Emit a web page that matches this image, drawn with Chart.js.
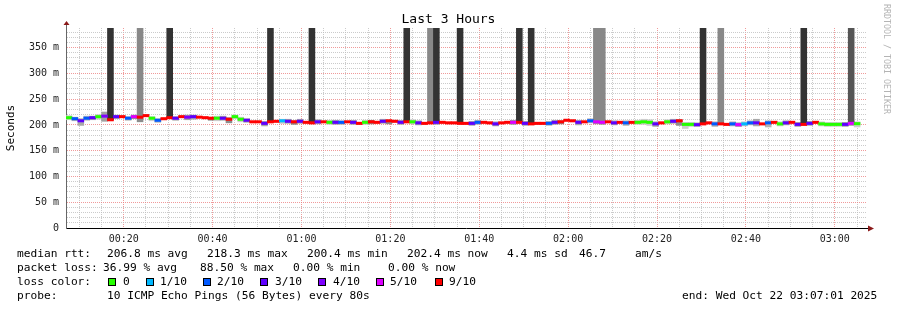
<!DOCTYPE html>
<html>
<head>
<meta charset="utf-8">
<script src="https://cdn.jsdelivr.net/npm/chart.js@4.4.0/dist/chart.umd.min.js"></script>
<style>
  body { margin: 0; background: #fff; }
  #wrap { position: relative; width: 897px; height: 310px; font-family: 'DejaVu Sans Mono', monospace; color: #000; overflow: hidden; }
  #wrap canvas { position: absolute; left: 0; top: 0; }
  .t { position: absolute; white-space: pre; font-size: 11.2px; line-height: 14px; }
  .box { position: absolute; width: 6px; height: 6px; border: 1px solid #000; }
  #title { position: absolute; left: 0; width: 897px; top: 11px; text-align: center; font-size: 13px; line-height: 16px; }
  #side { position: absolute; left: 882px; top: 4px; writing-mode: vertical-rl; font-size: 8.3px; line-height: 10px; color: #b4b4b4; }
</style>
</head>
<body>
<div id="wrap">
  <canvas id="smokeChart" width="897" height="310"></canvas>
  <div id="title">Last 3 Hours</div>
  <div id="side">RRDTOOL / TOBI OETIKER</div>
  <div id="legend"></div>
</div>
<script>
// 80 s steps starting 00:07:01 (minutes since midnight)
const stepStart = 7 + 1 / 60;
const stepMinutes = 80 / 60;

// median rtt per step (ms)
const median = [
  214, 212, 208, 213, 214, 216, 217, 210, 216, 216,
  213, 216, 215, 218, 213, 209, 212, 214, 213, 216,
  215, 216, 215, 214, 213, 213, 213, 211, 216, 211,
  209, 206, 206, 203, 206, 207, 208, 207, 206, 207,
  205, 204, 206, 206, 205, 205, 205, 206, 205, 203,
  205, 206, 205, 207, 208, 207, 205, 206, 206, 204,
  203, 204, 205, 205, 204, 204, 203, 203, 203, 205,
  205, 204, 202, 204, 205, 205, 205, 203, 202, 203,
  203, 203, 205, 206, 209, 208, 205, 206, 208, 206,
  205, 206, 204, 205, 204, 205, 205, 206, 205, 202,
  204, 206, 207, 208, 201, 201, 200.5, 202, 204, 202,
  202, 201, 202, 200.5, 202, 204, 204, 202, 204, 205,
  202, 204, 205, 201, 201, 203, 205, 202, 201, 201,
  201, 201, 203, 202.4
];

// packet loss per step (x/10)
const loss = [
  0, 2, 3, 2, 3, 0, 4, 9, 3, 9,
  2, 5, 9, 9, 0, 2, 9, 9, 3, 9,
  4, 3, 9, 9, 9, 0, 3, 9, 0, 0,
  3, 9, 9, 3, 9, 9, 1, 3, 9, 3,
  9, 9, 3, 9, 0, 3, 2, 9, 3, 9,
  0, 9, 9, 3, 9, 9, 3, 9, 0, 3,
  9, 9, 3, 9, 9, 9, 9, 9, 3, 2,
  9, 9, 3, 9, 9, 5, 9, 3, 9, 9,
  9, 2, 3, 9, 9, 9, 3, 9, 2, 5,
  5, 9, 3, 9, 2, 9, 0, 0, 0, 3,
  9, 0, 3, 9, 0, 0, 3, 9, 9, 2,
  9, 9, 2, 5, 1, 2, 3, 9, 2, 9,
  0, 3, 9, 3, 9, 3, 9, 0, 0, 0,
  0, 3, 5, 0
];

// smoke (spread of the pings) per step, ms
const smokeLo = [
  210, 208, 199, 209, 210, 211, 207, 209, 212, 215,
  209, 212, 206, 217, 208, 205, 211, 213, 209, 215,
  210, 211, 214, 213, 209, 208, 209, 204, 212, 206,
  205, 205, 205, 198, 205, 206, 203, 203, 201, 203,
  204, 203, 202, 205, 201, 201, 201, 205, 201, 202,
  201, 202, 204, 203, 202, 206, 201, 205, 202, 200,
  202, 203, 201, 204, 203, 203, 202, 202, 199, 201,
  204, 203, 198, 203, 204, 201, 204, 199, 201, 202,
  202, 199, 201, 202, 208, 207, 200, 205, 204, 202,
  201, 205, 200, 204, 199, 204, 201, 201, 199, 197,
  203, 202, 203, 199, 193, 197, 197, 201, 203, 197,
  201, 200, 198, 197, 198, 200, 198, 201, 196, 204,
  198, 200, 204, 197, 200, 199, 204, 198, 197, 197,
  197, 197, 199, 196
];
const smokeHi = [
  218, 215, 212, 217, 217, 220, 225, 212, 219, 217,
  216, 219, 218, 219, 216, 212, 213, 215, 216, 217,
  219, 219, 216, 215, 214, 217, 217, 214, 219, 215,
  212, 207, 207, 207, 207, 208, 211, 211, 208, 211,
  206, 205, 210, 207, 209, 209, 208, 207, 209, 204,
  209, 209, 206, 211, 209, 208, 209, 207, 210, 208,
  204, 205, 209, 206, 205, 205, 204, 204, 207, 209,
  206, 205, 206, 205, 206, 209, 206, 207, 203, 204,
  204, 207, 209, 208, 210, 209, 209, 207, 212, 210,
  209, 207, 208, 206, 208, 206, 209, 211, 210, 206,
  205, 210, 211, 210, 205, 205, 204, 203, 205, 206,
  203, 202, 206, 204, 206, 208, 211, 203, 208, 206,
  206, 208, 206, 205, 202, 207, 206, 206, 205, 205,
  205, 205, 207, 206
];

// steps whose slowest pings run off the top of the scale
const outlierDark = [7, 17, 34, 41, 57, 62, 66, 76, 78, 107, 124];
const outlierMid = [132];
const outlierGrey = [12, 61, 89, 90, 110];
const outlierRtt = 420;

const yLabelValues = [0, 50, 100, 150, 200, 250, 300, 350];
const yLabels = ['0', '50 m', '100 m', '150 m', '200 m', '250 m', '300 m', '350 m'];
const xLabelMinutes = [20, 40, 60, 80, 100, 120, 140, 160, 180];
const xLabels = ['00:20', '00:40', '01:00', '01:20', '01:40', '02:00', '02:20', '02:40', '03:00'];

const lossColors = { 0: '#26ff00', 1: '#00b8ff', 2: '#0059ff', 3: '#5e00ff', 4: '#7e00ff', 5: '#dd00ff', 9: '#ff0000' };
const smokeColors = { 0: '#cdcdcd', 1: '#c4c4c4', 2: '#b4b4b4', 3: '#a8a8a8', 4: '#a0a0a0', 5: '#989898', 9: '#8c8c8c' };

const stepX = i => stepStart + stepMinutes * (i + 0.5);

const medianData = median.map((m, i) => ({ x: stepX(i), y: [m - 2.3, m + 2.3] }));
const smokeData = smokeLo.map((lo, i) => ({ x: stepX(i), y: [lo, smokeHi[i]] }));
const outlierData = steps => steps.map(i => ({ x: stepX(i), y: [median[i], outlierRtt] }));

const xGrid = [];
for (let m = 10; m <= 185; m += 5) xGrid.push(m);
const yGrid = [];
for (let v = 0; v <= 380; v += 10) yGrid.push(v);

const gridRed = 'rgba(235, 120, 120, 0.75)';
const gridGrey = 'rgba(190, 190, 190, 0.8)';
const tickFont = { family: 'DejaVu Sans Mono', size: 10 };

const axisArrows = {
  id: 'axisArrows',
  afterDraw(chart) {
    const { ctx, chartArea: a } = chart;
    ctx.save();
    ctx.strokeStyle = '#666';
    ctx.lineWidth = 1;
    ctx.beginPath();
    ctx.moveTo(a.left + 0.5, a.top);
    ctx.lineTo(a.left + 0.5, a.top - 4);
    ctx.stroke();
    ctx.strokeStyle = '#000';
    ctx.beginPath();
    ctx.moveTo(a.right, a.bottom + 0.5);
    ctx.lineTo(a.right + 3, a.bottom + 0.5);
    ctx.stroke();
    ctx.fillStyle = '#8b1a1a';
    ctx.beginPath();
    ctx.moveTo(a.left - 2.5, a.top - 3);
    ctx.lineTo(a.left + 3.5, a.top - 3);
    ctx.lineTo(a.left + 0.5, a.top - 7);
    ctx.closePath();
    ctx.fill();
    ctx.beginPath();
    ctx.moveTo(a.right + 2, a.bottom - 2.5);
    ctx.lineTo(a.right + 2, a.bottom + 3.5);
    ctx.lineTo(a.right + 8, a.bottom + 0.5);
    ctx.closePath();
    ctx.fill();
    ctx.restore();
  }
};

new Chart(document.getElementById('smokeChart').getContext('2d'), {
  type: 'bar',
  data: {
    datasets: [
      {
        label: 'median rtt',
        data: medianData,
        backgroundColor: ctx => lossColors[loss[ctx.dataIndex]],
        order: 0
      },
      { label: 'outliers dark', data: outlierData(outlierDark), backgroundColor: '#333333', order: 1 },
      { label: 'outliers mid', data: outlierData(outlierMid), backgroundColor: '#555555', order: 1 },
      { label: 'outliers grey', data: outlierData(outlierGrey), backgroundColor: '#888888', order: 1 },
      {
        label: 'smoke',
        data: smokeData,
        backgroundColor: ctx => smokeColors[loss[ctx.dataIndex]],
        order: 2
      }
    ]
  },
  options: {
    responsive: false,
    animation: false,
    devicePixelRatio: 1,
    layout: { padding: { left: 0, right: 31, top: 28, bottom: 0 } },
    datasets: {
      bar: { grouped: false, barPercentage: 1, categoryPercentage: 1, borderWidth: 0, clip: 0 }
    },
    plugins: {
      legend: { display: false },
      tooltip: { enabled: false },
      title: { display: false }
    },
    scales: {
      x: {
        type: 'linear',
        offset: false,
        min: stepStart,
        max: stepStart + 180,
        afterBuildTicks: ax => { ax.ticks = xGrid.map(v => ({ value: v })); },
        afterFit: ax => { ax.height = 82; },
        grid: {
          offset: false,
          color: c => (c.tick && xLabelMinutes.includes(c.tick.value)) ? gridRed : gridGrey,
          drawTicks: false
        },
        border: { color: '#000', dash: [1, 1] },
        ticks: {
          autoSkip: false,
          maxRotation: 0,
          padding: 5,
          color: '#222',
          font: tickFont,
          callback: v => {
            const k = xLabelMinutes.indexOf(v);
            return k >= 0 ? xLabels[k] : '';
          }
        }
      },
      y: {
        min: 0,
        max: 388,
        afterBuildTicks: ax => { ax.ticks = yGrid.map(v => ({ value: v })); },
        afterFit: ax => { ax.width = 66; },
        grid: {
          color: c => (c.tick && yLabelValues.includes(c.tick.value)) ? gridRed : gridGrey,
          drawTicks: false
        },
        border: { color: '#666', dash: [1, 1] },
        ticks: {
          autoSkip: false,
          padding: 7,
          color: '#222',
          font: tickFont,
          callback: v => {
            const k = yLabelValues.indexOf(v);
            return k >= 0 ? yLabels[k] : '';
          }
        },
        title: {
          display: true,
          text: 'Seconds',
          color: '#000',
          font: { family: 'DejaVu Sans Mono', size: 11 },
          padding: { top: 5, bottom: 0 }
        }
      }
    }
  },
  plugins: [axisArrows]
});

// text block under the graph
const legendRows = [
  { top: 247, parts: [[17, 'median rtt:'], [107, '206.8 ms avg'], [207, '218.3 ms max'], [307, '200.4 ms min'], [407, '202.4 ms now'], [507, '4.4 ms sd'], [579, '46.7'], [635, 'am/s']] },
  { top: 261, parts: [[17, 'packet loss:'], [103, '36.99 % avg'], [200, '88.50 % max'], [293, '0.00 % min'], [388, '0.00 % now']] },
  { top: 275, parts: [[17, 'loss color:']] },
  { top: 289, parts: [[17, 'probe:'], [107, '10 ICMP Echo Pings (56 Bytes) every 80s'], [682, 'end: Wed Oct 22 03:07:01 2025']] }
];
const lossKeys = [
  [108, 123, 0, '0'], [146, 160, 1, '1/10'], [203, 217, 2, '2/10'], [260, 275, 3, '3/10'],
  [318, 333, 4, '4/10'], [376, 390, 5, '5/10'], [435, 449, 9, '9/10']
];

const legend = document.getElementById('legend');
legendRows.forEach(row => {
  row.parts.forEach(([x, text]) => {
    const el = document.createElement('div');
    el.className = 't';
    el.style.left = x + 'px';
    el.style.top = row.top + 'px';
    el.textContent = text;
    legend.appendChild(el);
  });
});
lossKeys.forEach(([bx, tx, lv, text]) => {
  const b = document.createElement('div');
  b.className = 'box';
  b.style.left = bx + 'px';
  b.style.top = '278px';
  b.style.background = lossColors[lv];
  legend.appendChild(b);
  const el = document.createElement('div');
  el.className = 't';
  el.style.left = tx + 'px';
  el.style.top = '275px';
  el.textContent = text;
  legend.appendChild(el);
});
</script>
</body>
</html>
